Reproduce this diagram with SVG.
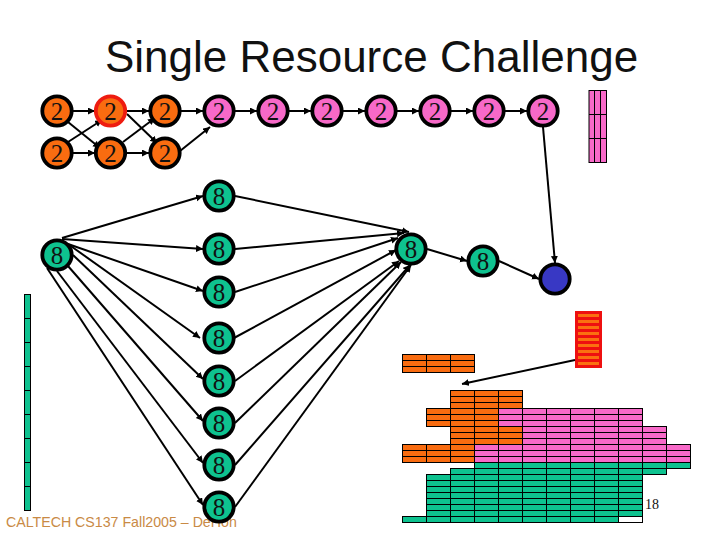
<svg xmlns="http://www.w3.org/2000/svg" width="720" height="540" viewBox="0 0 720 540">
<style>
.n circle{stroke:#000;stroke-width:3.8}
.n text{font:25px "Liberation Serif",serif;text-anchor:middle;fill:#111}
.o circle{fill:#f96c10}.p circle{fill:#f769c8}.g circle{fill:#0ec28f}
#edges line{stroke:#000;stroke-width:2;marker-end:url(#a)}
</style>
<defs>
<marker id="a" markerUnits="userSpaceOnUse" markerWidth="8" markerHeight="8" refX="7" refY="3.500" orient="auto"><path d="M0 0L7 3.500L0 7z"/></marker>
<pattern id="po" patternUnits="userSpaceOnUse" x="402" y="390" width="24" height="6"><rect width="24" height="6" fill="#f96c10"/><rect width="24" height="1"/><rect width="1" height="6"/></pattern>
<pattern id="pp" patternUnits="userSpaceOnUse" x="402" y="390" width="24" height="6"><rect width="24" height="6" fill="#f769c8"/><rect width="24" height="1"/><rect width="1" height="6"/></pattern>
<pattern id="pg" patternUnits="userSpaceOnUse" x="402" y="390" width="24" height="6"><rect width="24" height="6" fill="#0ec28f"/><rect width="24" height="1"/><rect width="1" height="6"/></pattern>
<pattern id="pw" patternUnits="userSpaceOnUse" x="402" y="390" width="24" height="6"><rect width="24" height="6" fill="#fff"/><rect width="24" height="1"/><rect width="1" height="6"/></pattern>
</defs>
<rect width="720" height="540" fill="#fff"/>
<text id="title" x="371.500" y="72" text-anchor="middle" font-family="Liberation Sans,Arial,sans-serif" font-size="44" fill="#111">Single Resource Challenge</text>
<text id="footer" x="6" y="527" font-family="Liberation Sans,Arial,sans-serif" font-size="14.200" fill="#c98a45">CALTECH CS137 Fall2005 – DeHon</text>
<text id="page" x="645" y="509" font-family="Liberation Serif,serif" font-size="14" fill="#111">18</text>

<g id="edges">
<line x1="73" y1="111" x2="95" y2="111"/><line x1="127" y1="111" x2="149" y2="111"/><line x1="181" y1="111" x2="203" y2="111"/>
<line x1="235" y1="111" x2="257" y2="111"/><line x1="289" y1="111" x2="311" y2="111"/><line x1="343" y1="111" x2="365" y2="111"/>
<line x1="397" y1="111" x2="419" y2="111"/><line x1="451" y1="111" x2="473" y2="111"/><line x1="505" y1="111" x2="527" y2="111"/>
<line x1="73" y1="153" x2="95" y2="153"/><line x1="127" y1="153" x2="149" y2="153"/>
<line x1="68" y1="122" x2="100" y2="148"/><line x1="68" y1="142" x2="102" y2="120"/>
<line x1="127" y1="114" x2="157" y2="143"/><line x1="123" y1="142" x2="155" y2="118"/>
<line x1="180" y1="151" x2="210" y2="127"/>
<line x1="62" y1="238" x2="203" y2="196"/><line x1="62" y1="239" x2="203" y2="249"/><line x1="68" y1="244" x2="203" y2="291"/>
<line x1="68" y1="244" x2="200" y2="338"/><line x1="73" y1="255" x2="203" y2="379"/><line x1="68" y1="266" x2="203" y2="421"/>
<line x1="57" y1="271" x2="203" y2="463"/><line x1="47" y1="268" x2="203" y2="505"/>
<line x1="235" y1="196" x2="409" y2="232"/><line x1="235" y1="249" x2="404" y2="233"/><line x1="235" y1="292" x2="398" y2="238"/>
<line x1="234" y1="338" x2="396" y2="250"/><line x1="235" y1="381" x2="399" y2="261"/><line x1="235" y1="423" x2="401" y2="262"/>
<line x1="235" y1="465" x2="410" y2="265"/><line x1="235" y1="507" x2="411" y2="265"/>
<line x1="427" y1="249" x2="467" y2="261"/><line x1="499" y1="261" x2="539" y2="279"/><line x1="543" y1="127" x2="555" y2="263"/>
</g>

<g id="n1" class="n o"><circle cx="57" cy="111" r="14.7"/><text x="57" y="120">2</text></g>
<g id="n2" class="n o"><circle cx="110.500" cy="111" r="14.700" style="stroke:#ee1c10"/><text x="110.500" y="120">2</text></g>
<g id="n3" class="n o"><circle cx="165" cy="111" r="14.7"/><text x="165" y="120">2</text></g>
<g id="n4" class="n p"><circle cx="219" cy="111" r="14.7"/><text x="219" y="120">2</text></g>
<g id="n5" class="n p"><circle cx="273" cy="111" r="14.7"/><text x="273" y="120">2</text></g>
<g id="n6" class="n p"><circle cx="327" cy="111" r="14.7"/><text x="327" y="120">2</text></g>
<g id="n7" class="n p"><circle cx="381" cy="111" r="14.7"/><text x="381" y="120">2</text></g>
<g id="n8" class="n p"><circle cx="435" cy="111" r="14.7"/><text x="435" y="120">2</text></g>
<g id="n9" class="n p"><circle cx="489" cy="111" r="14.7"/><text x="489" y="120">2</text></g>
<g id="n10" class="n p"><circle cx="543" cy="111" r="14.7"/><text x="543" y="120">2</text></g>
<g id="n11" class="n o"><circle cx="57" cy="153" r="14.7"/><text x="57" y="162">2</text></g>
<g id="n12" class="n o"><circle cx="110.500" cy="153" r="14.700"/><text x="110.500" y="162">2</text></g>
<g id="n13" class="n o"><circle cx="165" cy="153" r="14.7"/><text x="165" y="162">2</text></g>
<g id="g0" class="n g"><circle cx="57" cy="255" r="14.7"/><text x="57" y="264">8</text></g>
<g id="g1" class="n g"><circle cx="219" cy="196" r="14.7"/><text x="219" y="204.500">8</text></g>
<g id="g2" class="n g"><circle cx="219" cy="249" r="14.7"/><text x="219" y="257.500">8</text></g>
<g id="g3" class="n g"><circle cx="219" cy="292" r="14.7"/><text x="219" y="300.500">8</text></g>
<g id="g4" class="n g"><circle cx="219" cy="338" r="14.7"/><text x="219" y="346.500">8</text></g>
<g id="g5" class="n g"><circle cx="219" cy="381" r="14.7"/><text x="219" y="389.500">8</text></g>
<g id="g6" class="n g"><circle cx="219" cy="423" r="14.7"/><text x="219" y="431.500">8</text></g>
<g id="g7" class="n g"><circle cx="219" cy="465" r="14.7"/><text x="219" y="473.500">8</text></g>
<g id="g8" class="n g"><circle cx="219" cy="507" r="14.7"/><text x="219" y="515.500">8</text></g>
<g id="g9" class="n g"><circle cx="411" cy="249" r="14.7"/><text x="411" y="257.500">8</text></g>
<g id="g10" class="n g"><circle cx="483" cy="261" r="14.7"/><text x="483" y="269.500">8</text></g>
<g id="blue" class="n"><circle cx="555" cy="279" r="14.7" fill="#3838c4"/></g>

<g id="charts">
<g fill="#f769c8" stroke="#000" stroke-width="1"><rect x="589" y="90.500" width="17.500" height="72"/><path d="M594.500 90.500V162.500M600.500 90.500V162.500M589 114.500H606.500M589 138.500H606.500" fill="none"/></g>
<g fill="#0ec28f" stroke="#000" stroke-width="1"><rect x="24.500" y="294.500" width="6" height="216"/><path d="M24.500 318.500h6M24.500 342.500h6M24.500 366.500h6M24.500 390.500h6M24.500 414.500h6M24.500 438.500h6M24.500 462.500h6M24.500 486.500h6" fill="none"/></g>
<rect x="575" y="311" width="27" height="57" fill="#ee1010"/>
<path d="M578 315.500h21M578 321.500h21M578 327.500h21M578 333.500h21M578 339.500h21M578 345.500h21M578 351.500h21M578 357.500h21M578 363.500h21" stroke="#fb7010" stroke-width="3" fill="none"/>
<rect x="402" y="354" width="73" height="19" fill="url(#po)"/>
<rect x="450" y="390" width="73" height="19" fill="url(#po)"/>
<rect x="426" y="408" width="73" height="19" fill="url(#po)"/>
<rect x="498" y="408" width="145" height="19" fill="url(#pp)"/>
<rect x="450" y="426" width="73" height="19" fill="url(#po)"/>
<rect x="522" y="426" width="145" height="19" fill="url(#pp)"/>
<rect x="402" y="444" width="73" height="19" fill="url(#po)"/>
<rect x="474" y="444" width="217" height="19" fill="url(#pp)"/>
<rect x="474" y="462" width="217" height="7" fill="url(#pg)"/>
<rect x="450" y="468" width="217" height="7" fill="url(#pg)"/>
<rect x="426" y="474" width="217" height="43" fill="url(#pg)"/>
<rect x="402" y="516" width="217" height="7" fill="url(#pg)"/>
<rect x="618" y="516" width="25" height="7" fill="url(#pw)"/>
<line x1="575" y1="360" x2="462" y2="384" stroke="#000" stroke-width="2" marker-end="url(#a)"/>
</g>
</svg>
